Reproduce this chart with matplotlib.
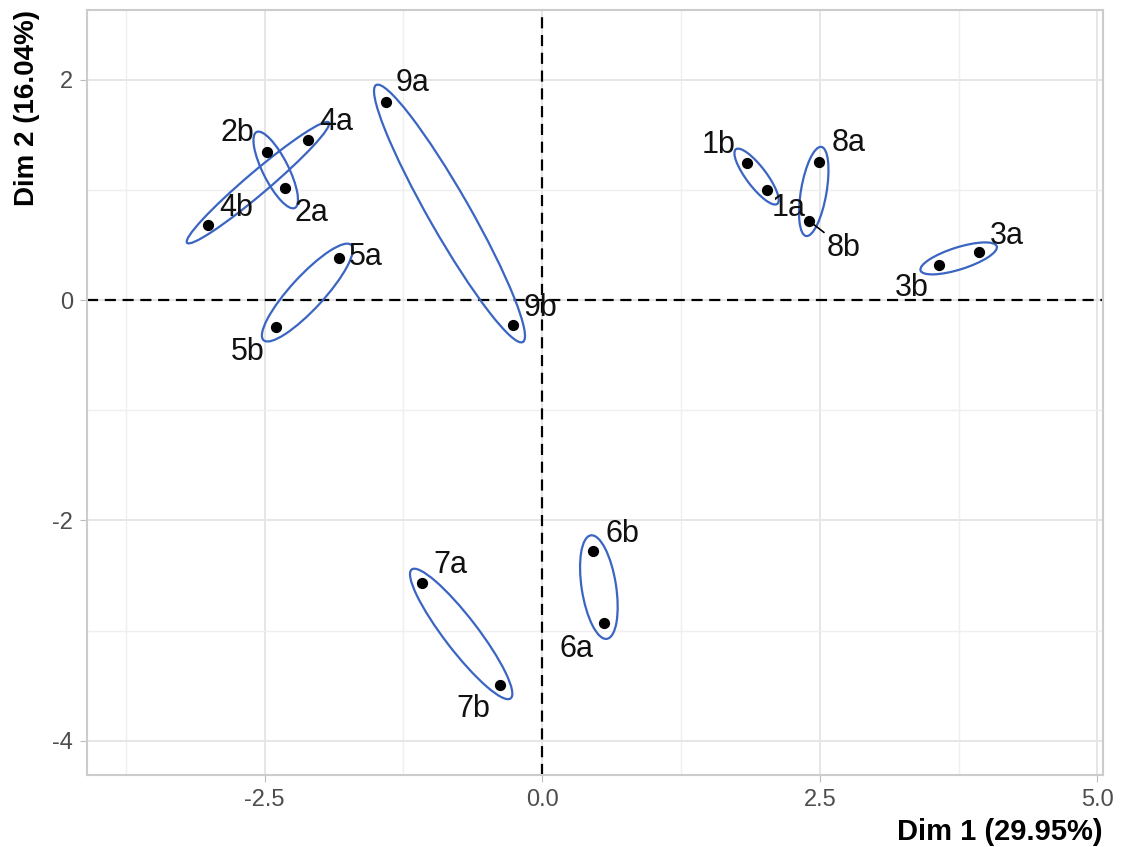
import numpy as np
import matplotlib
matplotlib.use("Agg")
import matplotlib.pyplot as plt
from matplotlib.patches import Ellipse

plt.rcParams['font.family'] = ['Liberation Sans', 'DejaVu Sans']
plt.rcParams['axes.unicode_minus'] = False

# individuals (pairs a/b)
labels = ["1a", "1b", "2a", "2b", "3a", "3b", "4a", "4b", "5a", "5b",
          "6a", "6b", "7a", "7b", "8a", "8b", "9a", "9b"]
dim1 = [2.02, 1.84, -2.32, -2.48, 3.93, 3.57, -2.11, -3.01, -1.83, -2.40,
        0.56, 0.46, -1.08, -0.38, 2.49, 2.40, -1.41, -0.26]
dim2 = [1.00, 1.24, 1.02, 1.34, 0.435, 0.32, 1.45, 0.68, 0.38, -0.245,
        -2.93, -2.28, -2.57, -3.49, 1.25, 0.72, 1.80, -0.23]

# confidence ellipse per pair: length / width of axes
pairs = ["1", "2", "3", "4", "5", "6", "7", "8", "9"]
ell_len = [0.62, 0.77, 0.72, 1.68, 1.17, 0.95, 1.47, 0.82, 2.68]
ell_wid = [0.18, 0.23, 0.20, 0.20, 0.30, 0.31, 0.30, 0.23, 0.37]

# label offsets in pixels (repel-like placement)
label_off = {
    "9a": (27, 19), "9b": (27, 17), "2b": (-29, 19), "4a": (28, 18),
    "2a": (27, -25), "4b": (28, 17), "5a": (27, 1), "5b": (-28, -25),
    "1b": (-28, 18), "1a": (22, -18), "8a": (30, 19), "8b": (35, -27),
    "3a": (28, 16), "3b": (-27, -23), "6b": (29, 17), "6a": (-28, -26),
    "7a": (28, 18), "7b": (-27, -24),
}

fig = plt.figure(figsize=(11.29, 8.47), dpi=100)
ax = fig.add_axes([0.077, 0.085, 0.9, 0.903])

ax.set_xlim(-4.10, 5.05)
ax.set_ylim(-4.31, 2.63)

ax.set_xticks([-2.5, 0.0, 2.5, 5.0])
ax.set_xticklabels(["-2.5", "0.0", "2.5", "5.0"])
ax.set_yticks([-4, -2, 0, 2])
ax.set_xticks([-3.75, -1.25, 1.25, 3.75], minor=True)
ax.set_yticks([-3, -1, 1], minor=True)
ax.grid(which="major", color="#e6e6e6", linewidth=1.4)
ax.grid(which="minor", color="#efefef", linewidth=1.0)
ax.set_axisbelow(True)
for s in ax.spines.values():
    s.set_color("#cccccc")
    s.set_linewidth(1.5)
ax.tick_params(which="major", length=5, color="#bbbbbb", labelsize=17,
               labelcolor="#4d4d4d", pad=5)
ax.tick_params(which="minor", length=0)

ax.axhline(0, color="black", linestyle=(0, (5, 3)), linewidth=1.6, zorder=1)
ax.axvline(0, color="black", linestyle=(0, (5, 3)), linewidth=1.6, zorder=1)

pos = {l: (x, y) for l, x, y in zip(labels, dim1, dim2)}
for p, L, W in zip(pairs, ell_len, ell_wid):
    xa, ya = pos[p + "a"]
    xb, yb = pos[p + "b"]
    cx, cy = (xa + xb) / 2, (ya + yb) / 2
    ang = np.degrees(np.arctan2(ya - yb, xa - xb))
    ax.add_patch(Ellipse((cx, cy), L, W, angle=ang, fill=False,
                         edgecolor="#3b65c2", linewidth=1.6, zorder=3))

ax.scatter(dim1, dim2, s=50, color="black", zorder=4)

for l in labels:
    dx, dy = label_off[l]
    arrow = None
    if l == "8b":
        arrow = dict(arrowstyle="-", color="black", lw=1.2,
                     shrinkA=0, shrinkB=3)
    ax.annotate(l, pos[l], xytext=(dx * 0.72, dy * 0.72),
                textcoords="offset points", ha="center", va="center",
                fontsize=22, color="#111111", arrowprops=arrow, zorder=5)

fig.text(0.977, 0.018, "Dim 1 (29.95%)", ha="right", va="center",
         fontsize=21, fontweight="bold")
fig.text(0.024, 0.988, "Dim 2 (16.04%)", ha="center", va="top",
         rotation=90, fontsize=20, fontweight="bold")

fig.savefig("out.png", dpi=100)
